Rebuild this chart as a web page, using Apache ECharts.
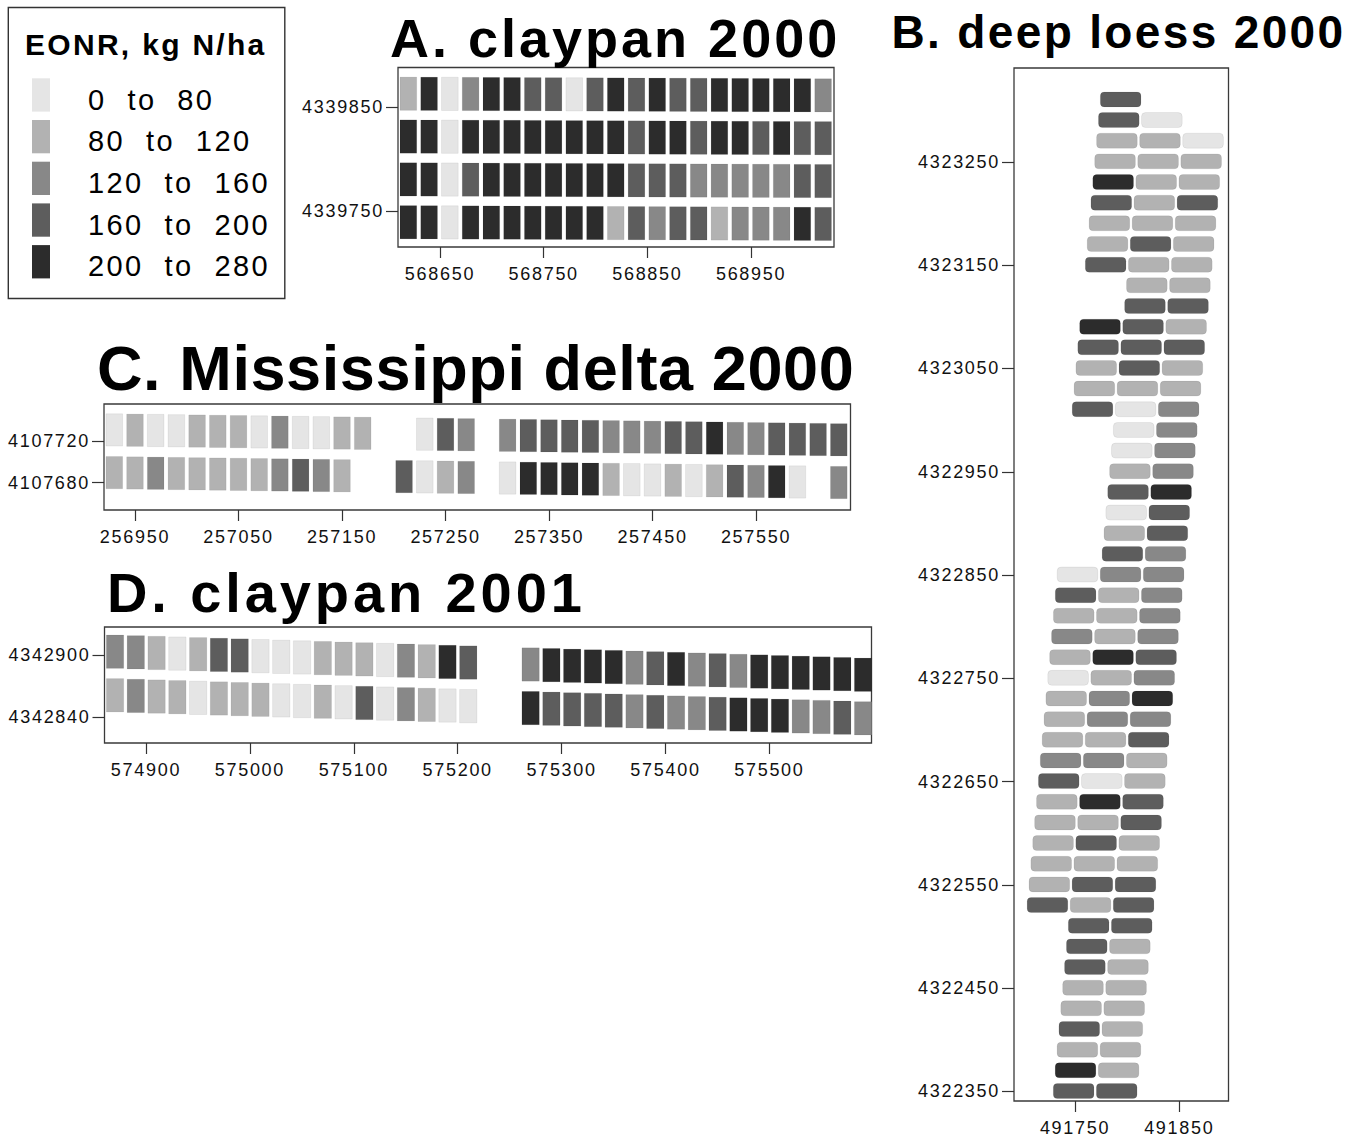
<!DOCTYPE html>
<html>
<head>
<meta charset="utf-8">
<script src="https://cdn.jsdelivr.net/npm/echarts@6/dist/echarts.min.js"></script>
<style>
html,body{margin:0;padding:0;background:#fff;}
#chart{width:1362px;height:1137px;}
#chart text[style*="54px"]{letter-spacing:3px;}
#chart text[style*="46px"]{letter-spacing:2.35px;}
#chart text[style*="63px"]{letter-spacing:0.6px;}
#chart text[style*="56px"]{letter-spacing:3.9px;}
#chart text[style*="30px"]{letter-spacing:2.3px;}
#chart text[style*="29px"]{letter-spacing:2.4px;}
#chart text[style*="18px"]{letter-spacing:1.7px;}
</style>
</head>
<body>
<div id="chart"></div>
<script>
// ================= DATA =================
// EONR classes (kg N/ha): 0 = 0-80, 1 = 80-120, 2 = 120-160, 3 = 160-200, 4 = 200-280
const legendTitle = 'EONR, kg N/ha';
const classLabels = ['0\u00a0\u00a0to\u00a0\u00a080', '80\u00a0\u00a0to\u00a0\u00a0120', '120\u00a0\u00a0to\u00a0\u00a0160', '160\u00a0\u00a0to\u00a0\u00a0200', '200\u00a0\u00a0to\u00a0\u00a0280'];
const classColors = ['#e5e5e5', '#b2b2b2', '#888888', '#5d5d5d', '#2c2c2c'];
const panelTitles = ['A. claypan 2000', 'B. deep loess 2000', 'C. Mississippi delta 2000', 'D. claypan 2001'];

// A. claypan 2000: plot rows north -> south, columns west -> east
const aRows = [
  [1,4,0,2,4,4,3,3,0,3,4,3,4,3,3,4,4,4,4,4,2],
  [4,4,0,4,4,4,4,4,4,4,4,3,4,4,3,4,4,3,4,3,3],
  [4,4,0,3,4,4,4,4,4,4,4,3,3,3,2,2,2,2,2,3,3],
  [4,4,0,4,4,4,4,4,4,4,1,3,2,3,3,1,2,2,2,4,3]
];
// B. deep loess 2000: rows north -> south, three plot columns (null = no plot)
const bRows = [
  [3,null,null],[3,0,null],[1,1,0],[1,1,1],[4,1,1],[3,1,3],[1,1,1],[1,3,1],[3,1,1],[null,1,1],
  [null,3,3],[4,3,1],[3,3,3],[1,3,1],[1,1,1],[3,0,2],[null,0,2],[null,0,2],[null,1,2],[null,3,4],
  [null,0,3],[null,1,3],[null,3,2],[0,2,2],[3,1,2],[1,1,2],[2,1,2],[1,4,3],[0,1,2],[1,2,4],
  [1,2,2],[1,1,3],[2,2,1],[3,0,1],[1,4,3],[1,1,3],[1,3,1],[1,1,1],[1,3,3],[3,1,3],
  [null,3,3],[null,3,1],[null,3,1],[null,1,1],[null,1,1],[null,3,1],[null,1,1],[null,4,1],[null,3,3]
];
// C. Mississippi delta 2000
const cRows = [
  [0,1,0,0,1,1,1,0,2,0,0,1,1,null,null,0,3,2,null,2,3,3,3,3,2,2,2,3,3,4,2,2,3,3,3,3],
  [1,1,2,1,1,1,1,1,2,3,2,1,null,null,3,0,1,2,null,0,4,4,4,4,1,0,0,1,0,1,3,2,4,0,null,2]
];
// D. claypan 2001
const dRows = [
  [2,2,1,0,1,3,3,0,0,0,1,1,1,0,2,1,4,3,null,null,2,4,4,4,4,2,3,4,2,3,2,4,4,4,4,4,4],
  [1,2,1,1,0,1,1,1,0,0,1,0,3,0,2,1,0,0,null,null,4,3,3,3,3,2,3,2,2,3,4,4,4,2,2,3,2]
];

// Tick labels (UTM easting / northing, m)
const aXTicks = [568650, 568750, 568850, 568950];
const aYTicks = [4339750, 4339850];
const bXTicks = [491750, 491850];
const bYTicks = [4322350, 4322450, 4322550, 4322650, 4322750, 4322850, 4322950, 4323050, 4323150, 4323250];
const cXTicks = [256950, 257050, 257150, 257250, 257350, 257450, 257550];
const cYTicks = [4107680, 4107720];
const dXTicks = [574900, 575000, 575100, 575200, 575300, 575400, 575500];
const dYTicks = [4342840, 4342900];

// ================= LAYOUT (positions / sizes) =================
const layout = [
  { // A
    grid: {left: 398, top: 67.5, width: 436, height: 179.5},
    x: [568609.5, 569030], y: [4339715.4, 4339888],
    e0: 568619.5, de: 20, n0: 4339862.8, dn: -41.2, tilt: -0.004, skew: 0,
    cw: 16.1, ch: 32, r: 0, rows: aRows, xt: aXTicks, yt: aYTicks
  },
  { // B
    grid: {left: 1014, top: 68, width: 214.5, height: 1034.5},
    x: [491691.5, 491897.2], y: [4322340.8, 4323340.9],
    e0: 491793.8, de: 41.3, n0: 4323310.5, dn: -20, tilt: 0, skew: -1.8,
    cw: 39, ch: 14.5, r: 4, rows: bRows, xt: bXTicks, yt: bYTicks
  },
  { // C
    grid: {left: 104, top: 404, width: 746.5, height: 106},
    x: [256920.05, 257641.3], y: [4107653.8, 4107755.5],
    e0: 256930, de: 20, n0: 4107730.6, dn: -41, tilt: -0.0135, skew: 0,
    cw: 16.1, ch: 31, r: 0, rows: cRows, xt: cXTicks, yt: cYTicks
  },
  { // D
    grid: {left: 104.5, top: 627, width: 767, height: 116},
    x: [574860.06, 575598.3], y: [4342814.8, 4342927.1],
    e0: 574870.2, de: 20, n0: 4342903.2, dn: -42.2, tilt: -0.031, skew: 0,
    cw: 16.7, ch: 32.3, r: 0, rows: dRows, xt: dXTicks, yt: dYTicks
  }
];
const legendLayout = {left: 32, top: 78.3, itemWidth: 18, itemHeight: 33.3, itemGap: 8.4, textX: 88, textDy: 4.7};

function cellData(L) {
  const out = [];
  L.rows.forEach(function (row, r) {
    row.forEach(function (cls, c) {
      if (cls === null) return;
      const e = L.e0 + L.de * c + L.skew * r;
      const n = L.n0 + L.dn * r + L.tilt * (L.de * c);
      out.push([e, n, cls]);
    });
  });
  return out;
}

const FONT = 'Liberation Sans';
const axisLabelStyle = {fontFamily: FONT, fontSize: 18, color: '#111'};

const grids = [], xAxes = [], yAxes = [], series = [];
layout.forEach(function (L, i) {
  grids.push(Object.assign({show: true, borderColor: '#3a3a3a', borderWidth: 1.3, backgroundColor: 'transparent', containLabel: false}, L.grid));
  xAxes.push({
    type: 'value', gridIndex: i, min: L.x[0], max: L.x[1],
    axisLine: {show: false}, splitLine: {show: false},
    axisTick: {show: true, length: 11, customValues: L.xt, lineStyle: {color: '#333', width: 1.2}},
    axisLabel: Object.assign({show: true, margin: 18, customValues: L.xt, formatter: function (v) { return String(v); }}, axisLabelStyle)
  });
  yAxes.push({
    type: 'value', gridIndex: i, min: L.y[0], max: L.y[1],
    axisLine: {show: false}, splitLine: {show: false},
    axisTick: {show: true, length: 12, customValues: L.yt, lineStyle: {color: '#333', width: 1.2}},
    axisLabel: Object.assign({show: true, margin: 14, customValues: L.yt, formatter: function (v) { return String(v); }}, axisLabelStyle)
  });
  series.push({
    type: 'custom', xAxisIndex: i, yAxisIndex: i,
    data: cellData(L), silent: true,
    renderItem: function (params, api) {
      const p = api.coord([api.value(0), api.value(1)]);
      const s = api.size([L.cw, L.ch]);
      return {
        type: 'rect',
        shape: {x: p[0] - s[0] / 2, y: p[1] - s[1] / 2, width: s[0], height: s[1], r: L.r},
        style: {fill: api.visual('color'), stroke: 'rgba(0,0,0,0.08)', lineWidth: 0.8}
      };
    }
  });
});

const titlePos = [
  {x: 390, y: 37.5, size: 54},
  {x: 891.5, y: 31.7, size: 46},
  {x: 97, y: 368, size: 63},
  {x: 107, y: 592, size: 56}
];

const graphics = [
  {type: 'rect', shape: {x: 8.3, y: 7.5, width: 276.5, height: 291}, style: {fill: 'none', stroke: '#333', lineWidth: 1.4}, silent: true},
  {type: 'text', x: 25, y: 44.2, silent: true, style: {text: legendTitle, font: 'bold 30px "Liberation Sans"', fill: '#000', align: 'left', verticalAlign: 'middle'}}
];
classLabels.forEach(function (l, i) {
  const LL = legendLayout;
  const cy = LL.top + LL.itemHeight / 2 + i * (LL.itemHeight + LL.itemGap) + LL.textDy;
  graphics.push({type: 'text', x: LL.textX, y: cy, silent: true,
    style: {text: l, font: '29px "Liberation Sans"', fill: '#000', align: 'left', verticalAlign: 'middle'}});
});
panelTitles.forEach(function (t, i) {
  const tp = titlePos[i];
  graphics.push({type: 'text', x: tp.x, y: tp.y, silent: true,
    style: {text: t, font: 'bold ' + tp.size + 'px "Liberation Sans"', fill: '#000', align: 'left', verticalAlign: 'middle'}});
});

const chart = echarts.init(document.getElementById('chart'), null, {renderer: 'svg', width: 1362, height: 1137});
chart.setOption({
  animation: false,
  backgroundColor: '#fff',
  grid: grids, xAxis: xAxes, yAxis: yAxes, series: series,
  visualMap: {
    type: 'piecewise', dimension: 2, seriesIndex: [0, 1, 2, 3],
    pieces: classLabels.map(function (l, i) { return {value: i, label: l, color: classColors[i]}; }),
    inverse: true, orient: 'vertical', left: legendLayout.left, top: legendLayout.top, padding: 0,
    itemWidth: legendLayout.itemWidth, itemHeight: legendLayout.itemHeight, itemGap: legendLayout.itemGap,
    itemSymbol: 'rect', showLabel: false,
    selectedMode: false, hoverLink: false
  },
  graphic: graphics
});
</script>
</body>
</html>
